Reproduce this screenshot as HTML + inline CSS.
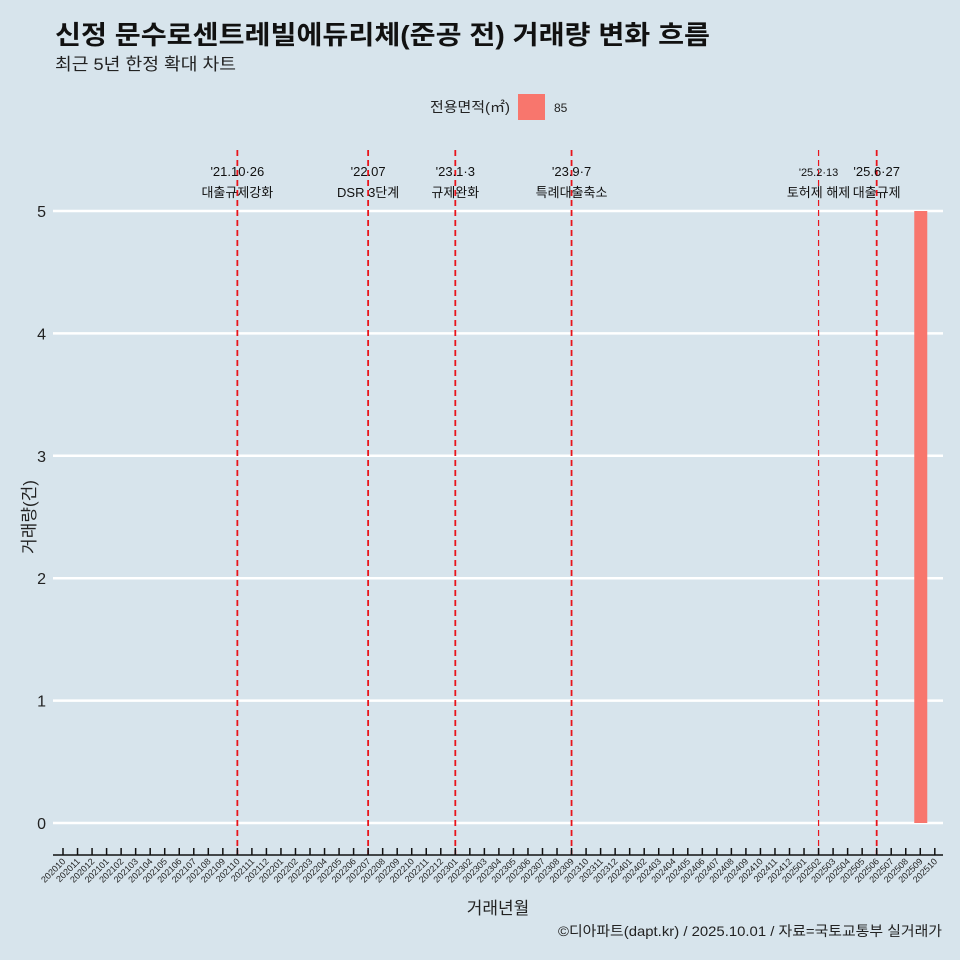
<!DOCTYPE html>
<html><head><meta charset="utf-8"><style>
body{margin:0;background:#d7e4ec;}
svg{display:block;font-family:"Liberation Sans","Noto Sans CJK KR",sans-serif;}
</style></head><body>
<svg width="960" height="960" viewBox="0 0 960 960">
<rect width="960" height="960" fill="#d7e4ec"/>
<text x="55" y="44" font-size="26" font-weight="bold" fill="#111" textLength="655" lengthAdjust="spacingAndGlyphs">신정 문수로센트레빌에듀리체(준공 전) 거래량 변화 흐름</text>
<text x="55" y="70" font-size="17" fill="#222" textLength="181" lengthAdjust="spacingAndGlyphs">최근 5년 한정 확대 차트</text>
<text x="430" y="112" font-size="14" fill="#222" textLength="80" lengthAdjust="spacingAndGlyphs">전용면적(㎡)</text>
<rect x="518" y="94" width="27" height="26" fill="#f8766d"/>
<text x="554" y="112" font-size="12" fill="#222">85</text>
<g id="grid"></g>
<g id="vlines"></g>
<g id="bars"></g>
<g id="xaxis"></g>
<text x="35" y="517" font-size="17" fill="#222" text-anchor="middle" transform="rotate(-90 35 517)">거래량(건)</text>
<text x="498" y="914" font-size="17" fill="#222" text-anchor="middle">거래년월</text>
<text x="942" y="936" font-size="14" fill="#222" text-anchor="end" textLength="384" lengthAdjust="spacingAndGlyphs">©디아파트(dapt.kr) / 2025.10.01 / 자료=국토교통부 실거래가</text>
</svg>
<script>
const months=[];for(let y=2020;y<=2025;y++)for(let m=1;m<=12;m++){const k=y*100+m;if(k>=202010&&k<=202510)months.push(String(k));}
const barMonths=["202509"];
const barValues=[5];
const yTicks=[0,1,2,3,4,5];
const eventMonths=["202110","202207","202301","202309","202502","202506"];
const eventDates=["'21.10·26","'22.07","'23.1·3","'23.9·7","'25.2·13","'25.6·27"];
const eventNames=["대출규제강화","DSR 3단계","규제완화","특례대출축소","토허제 해제","대출규제"];
const NS="http://www.w3.org/2000/svg";
const x=k=>63+months.indexOf(k)*14.53;
const y=v=>823-v*122.4;
function mk(t,a,p){const e=document.createElementNS(NS,t);for(const k in a)e.setAttribute(k,a[k]);p.appendChild(e);return e;}
const g=document.getElementById('grid');
yTicks.forEach(v=>{
 const l=mk('line',{x1:53,x2:943,y1:y(v),y2:y(v),stroke:'#fff','stroke-width':2.5},g);
 
 
 const t=mk('text',{x:46,y:y(v)+6,'font-size':16,'text-anchor':'end',fill:'#222'},g);t.textContent=v;
 
 
});
const vl=document.getElementById('vlines');
eventMonths.forEach((k,i)=>{
 const small=i==4;
 const l=mk('line',{x1:x(k),x2:x(k),y1:150,y2:855,stroke:'#e8141b','stroke-width':small?1.2:1.8,'stroke-dasharray':'6,4'},vl);
 
 
 const t1=mk('text',{x:x(k),y:176,'font-size':small?11:13,'text-anchor':'middle',fill:'#111'},vl);t1.textContent=eventDates[i];
 
 
 const t2=mk('text',{x:x(k),y:197,'font-size':13,'text-anchor':'middle',fill:'#111'},vl);t2.textContent=eventNames[i];
 
 
});
const b=document.getElementById('bars');
barMonths.forEach((k,i)=>{
 const r=mk('rect',{x:x(k)-6,y:y(barValues[i]),width:13,height:y(0)-y(barValues[i]),fill:'#f8766d'},b);
 
 
});
const xa=document.getElementById('xaxis');
const ax=mk('line',{x1:53,x2:943,y1:855,y2:855,stroke:'#111','stroke-width':1.5},xa);


months.forEach(k=>{
 const tk=mk('line',{x1:x(k),x2:x(k),y1:848,y2:855,stroke:'#111','stroke-width':1.5},xa);
 
 
 const t=mk('text',{x:x(k)+3,y:862,'font-size':9,'text-anchor':'end',fill:'#222',transform:`rotate(-45 ${x(k)+3} 862)`},xa);t.textContent=k;
 
 
});
</script>
</body></html>
